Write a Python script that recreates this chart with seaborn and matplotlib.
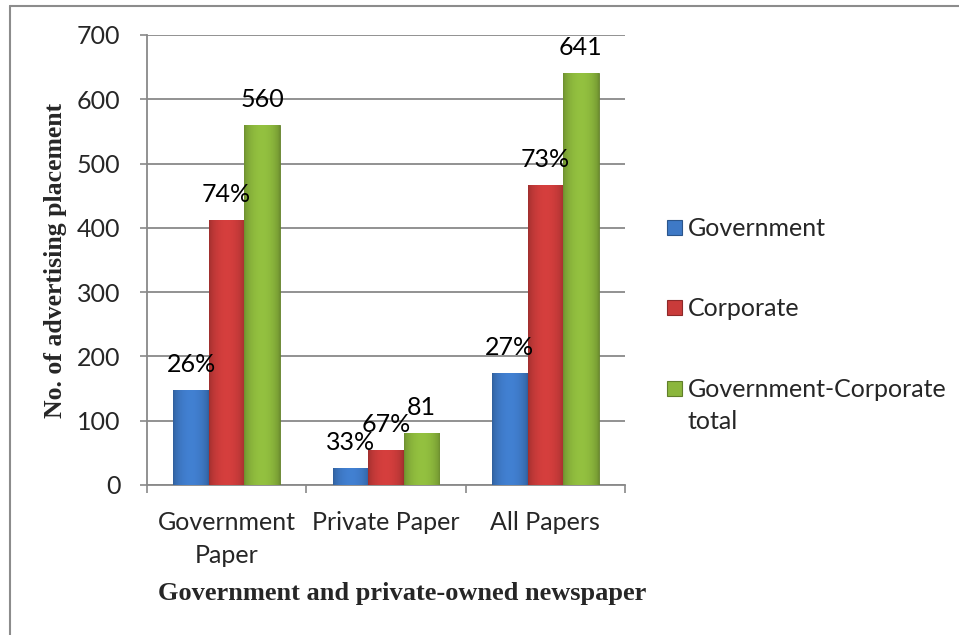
import numpy as np
import pandas as pd
import matplotlib
matplotlib.use("Agg")
import matplotlib.pyplot as plt
import seaborn as sns
from matplotlib.patches import Rectangle
from matplotlib.colors import to_rgb

categories = ["Government\nPaper", "Private Paper", "All Papers"]
series = ["Government", "Corporate", "Government-Corporate\ntotal"]
government = [148, 27, 174]
corporate = [412, 54, 467]
total = [560, 81, 641]
labels_gov = ["26%", "33%", "27%"]
labels_corp = ["74%", "67%", "73%"]
labels_total = ["560", "81", "641"]
yticks = [0, 100, 200, 300, 400, 500, 600, 700]

colors = ["#3E79C6", "#C93B3A", "#8BB63C"]

df = pd.DataFrame({
    "category": categories * 3,
    "series": [series[0]] * 3 + [series[1]] * 3 + [series[2]] * 3,
    "value": government + corporate + total,
})
labels_all = labels_gov + labels_corp + labels_total

sns.set_style("white")
plt.rcParams['font.family'] = ['Lato', 'DejaVu Sans']

FS = 18
W, H = 959, 635
fig = plt.figure(figsize=(W / 100, H / 100), dpi=100)
ax = fig.add_axes([147 / W, 1 - 485 / H, (625 - 147) / W, (485 - 35) / H])

sns.barplot(data=df, x="category", y="value", hue="series", palette=colors,
            order=categories, hue_order=series, width=0.67, ax=ax,
            legend=False, saturation=1, zorder=3)

# gradient shading on bars
t = np.linspace(0, 1, 64)
shade = 0.78 + 0.28 * np.sin(np.pi * t) ** 0.6
for i, p in enumerate(ax.patches):
    c = np.array(to_rgb(colors[i // 3]))
    x0, y0 = p.get_x(), p.get_y()
    w, h = p.get_width(), p.get_height()
    img = np.clip(c[None, :] * shade[:, None], 0, 1)[None, :, :]
    im = ax.imshow(img, extent=[x0, x0 + w, y0, y0 + h], aspect="auto",
                   zorder=3.5, interpolation="bilinear")
    im.set_clip_path(p)
    p.set_edgecolor(tuple(c * 0.7))
    p.set_linewidth(0.6)

for i, p in enumerate(ax.patches):
    ax.annotate(labels_all[i], (p.get_x() + p.get_width() / 2, p.get_height()),
                xytext=(0, 13), textcoords="offset points", ha="center",
                va="baseline", fontsize=FS, color="black", zorder=5)

ax.set_xlim(-0.5, 2.5)
ax.set_ylim(0, 700)
ax.set_yticks(yticks)
ax.set_yticklabels([str(v) for v in yticks])
ax.yaxis.grid(True, color="#898989", linewidth=1.3, zorder=0)
ax.set_axisbelow(True)
for s in ["top", "right"]:
    ax.spines[s].set_visible(False)
for s in ["left", "bottom"]:
    ax.spines[s].set_color("#898989")
    ax.spines[s].set_linewidth(1.3)

ax.tick_params(axis="y", which="major", length=5, width=1.2, color="#898989",
               direction="out", pad=14, labelsize=FS, left=True)
ax.set_xticks([-0.5, 0.5, 1.5, 2.5], minor=True)
ax.tick_params(axis="x", which="minor", length=6, width=1.2, color="#898989",
               direction="out", bottom=True)
ax.tick_params(axis="x", which="major", length=0, pad=19, labelsize=FS)
for lab in ax.get_xticklabels():
    lab.set_linespacing(1.5)

ax.set_xlabel("Government and private-owned newspaper", fontsize=19,
              fontweight="bold", family="Liberation Serif")
ax.set_ylabel("No. of advertising placement", fontsize=18.5,
              fontweight="bold", family="Liberation Serif")
ax.xaxis.set_label_coords(0.533, -0.215)
ax.yaxis.set_label_coords(-0.167, 0.5)

# legend (handle aligned with first text line, as in the reference)
leg_y = [227, 307, 388]
for c, lab, yy in zip(colors, series, leg_y):
    cc = np.array(to_rgb(c))
    fig.add_artist(Rectangle((667 / W, 1 - (yy + 7.5) / H), 15 / W, 15 / H,
                             facecolor=c, edgecolor=tuple(cc * 0.7), linewidth=0.8,
                             transform=fig.transFigure))
    fig.text(688 / W, 1 - (yy - 10) / H, lab, fontsize=FS, ha="left", va="top",
             linespacing=1.45)

# outer chart border (left and top visible)
fig.add_artist(plt.Line2D([10 / W, 10 / W], [0, 1 - 6 / H], color="#8c8c8c",
                          linewidth=1.5, transform=fig.transFigure))
fig.add_artist(plt.Line2D([10 / W, 1], [1 - 6 / H, 1 - 6 / H], color="#8c8c8c",
                          linewidth=1.5, transform=fig.transFigure))

fig.savefig("out.png", dpi=100)
